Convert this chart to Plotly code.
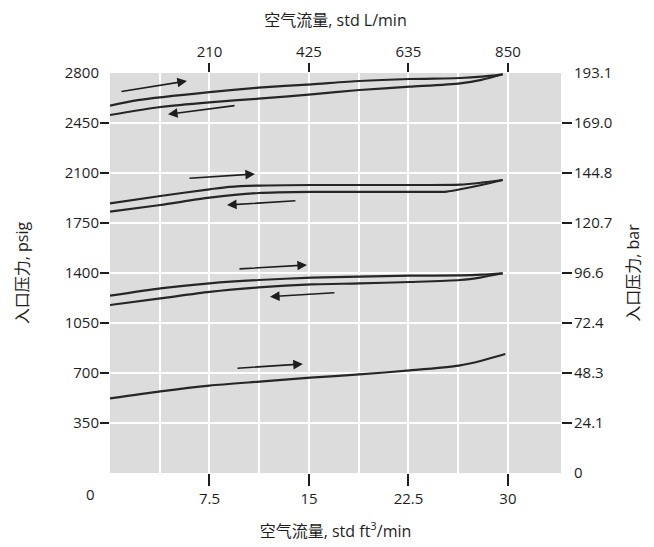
import plotly.graph_objects as go

# ---- axis ticks ----
flow_ticks = [7.5, 15, 22.5, 30]
flow_tick_text = ["7.5", "15", "22.5", "30"]
lpm_tick_text = ["210", "425", "635", "850"]
flow_minor_grid = [3.75, 11.25, 18.75, 26.25]
psi_ticks = [350, 700, 1050, 1400, 1750, 2100, 2450, 2800]
psi_tick_text = ["350", "700", "1050", "1400", "1750", "2100", "2450", "2800"]
psi_dash_ticks = [350, 700, 1050, 1400, 1750, 2100, 2450]
bar_ticks = [0, 350, 700, 1050, 1400, 1750, 2100, 2450, 2800]
bar_tick_text = ["0", "24.1", "48.3", "72.4", "96.6", "120.7", "144.8", "169.0", "193.1"]

# ---- curves (flow std ft3/min, inlet pressure psig) ----
p2800_up_x = [0, 2.1, 7.5, 11.2, 15.2, 18.8, 22.6, 26.4, 28.0, 29.6]
p2800_up_y = [2571, 2610, 2666, 2697, 2721, 2744, 2758, 2765, 2774, 2791]
p2800_dn_x = [0, 3.8, 7.5, 11.2, 15.2, 18.8, 22.6, 26.4, 28.0, 29.6]
p2800_dn_y = [2506, 2562, 2595, 2620, 2651, 2681, 2704, 2728, 2752, 2791]

p2100_up_x = [0, 3.8, 7.5, 9.0, 11.2, 15.2, 18.8, 22.6, 26.4, 28.0, 29.6]
p2100_up_y = [1888, 1939, 1986, 2003, 2012, 2016, 2016, 2016, 2018, 2032, 2051]
p2100_dn_x = [0, 3.8, 7.5, 11.2, 15.2, 18.8, 22.6, 25.4, 26.4, 28.0, 29.6]
p2100_dn_y = [1830, 1876, 1927, 1960, 1968, 1968, 1968, 1970, 1986, 2016, 2051]

p1400_up_x = [0, 3.8, 7.5, 11.2, 15.2, 18.8, 22.6, 26.4, 28.0, 29.6]
p1400_up_y = [1241, 1293, 1328, 1351, 1367, 1374, 1381, 1383, 1388, 1398]
p1400_dn_x = [0, 3.8, 7.5, 11.2, 15.2, 18.8, 22.6, 26.4, 28.0, 29.6]
p1400_dn_y = [1176, 1222, 1268, 1299, 1320, 1327, 1337, 1351, 1370, 1398]

p700_x = [0, 3.8, 7.5, 11.3, 15.1, 18.8, 22.6, 26.3, 28.0, 29.8]
p700_y = [523, 572, 612, 640, 667, 690, 718, 752, 786, 833]

# ---- direction arrows: (start x, start y, end x, end y) ----
arrow_x0 = [0.75, 9.50, 5.88, 14.09, 9.65, 17.03, 9.50]
arrow_y0 = [2669, 2573, 2063, 1906, 1428, 1262, 733]
arrow_x1 = [5.80, 4.37, 10.93, 8.82, 14.85, 12.06, 14.54]
arrow_y1 = [2744, 2511, 2093, 1876, 1456, 1234, 763]

FONT = "Open Sans, Noto Sans CJK SC, sans-serif"
INK = "#1e1e1e"
LINE = "#262626"

fig = go.Figure()
curves = [
    (p2800_up_x, p2800_up_y), (p2800_dn_x, p2800_dn_y),
    (p2100_up_x, p2100_up_y), (p2100_dn_x, p2100_dn_y),
    (p1400_up_x, p1400_up_y), (p1400_dn_x, p1400_dn_y),
    (p700_x, p700_y),
]
for cx, cy in curves:
    fig.add_trace(go.Scatter(
        x=cx, y=cy, mode="lines",
        line=dict(color=LINE, width=2.2, shape="spline", smoothing=0.7),
        showlegend=False, hoverinfo="skip"))
# dummy trace to activate the secondary axes
fig.add_trace(go.Scatter(x=[None], y=[None], xaxis="x2", yaxis="y2",
                         mode="lines", showlegend=False, hoverinfo="skip"))

for x0, y0, x1, y1 in zip(arrow_x0, arrow_y0, arrow_x1, arrow_y1):
    fig.add_annotation(x=x1, y=y1, ax=x0, ay=y0, xref="x", yref="y",
                       axref="x", ayref="y", text="", showarrow=True,
                       arrowhead=2, arrowsize=1.2, arrowwidth=1.6,
                       arrowcolor=INK)

fig.add_annotation(x=0, y=0, xref="paper", yref="paper", text="0",
                   showarrow=False, xanchor="center", yanchor="middle",
                   xshift=-20, yshift=-21,
                   font=dict(family=FONT, size=15, color=INK))

tickfont = dict(family=FONT, size=15, color=INK)
titlefont = dict(family=FONT, size=16, color=INK)

fig.update_layout(
    width=654, height=547,
    margin=dict(l=102, r=101, t=65, b=82),
    paper_bgcolor="white", plot_bgcolor="#dcdcdd",
    font=dict(family=FONT, color=INK),
    xaxis=dict(
        range=[0, 34], tickvals=flow_ticks, ticktext=flow_tick_text,
        ticks="outside", ticklen=12, tickwidth=1.5, tickcolor=INK,
        showgrid=True, gridcolor="white", gridwidth=2,
        minor=dict(tickvals=flow_minor_grid, showgrid=True,
                   gridcolor="white", gridwidth=2, ticks=""),
        zeroline=False, showline=False, tickfont=tickfont,
        title=dict(text="空气流量, std ft<sup>3</sup>/min", font=titlefont,
                   standoff=18),
    ),
    xaxis2=dict(
        overlaying="x", side="top", range=[0, 34], anchor="y",
        tickvals=flow_ticks, ticktext=lpm_tick_text,
        ticks="outside", ticklen=9, tickwidth=1.5, tickcolor=INK,
        showgrid=False, zeroline=False, showline=False, tickfont=tickfont,
        title=dict(text="空气流量, std L/min", font=titlefont, standoff=10),
    ),
    yaxis=dict(
        range=[0, 2800], tickvals=psi_ticks, ticktext=psi_tick_text,
        ticks="", showgrid=True, gridcolor="white", gridwidth=2,
        minor=dict(tickvals=psi_dash_ticks, ticks="outside", ticklen=9,
                   tickwidth=1.5, tickcolor=INK, showgrid=False),
        zeroline=False, showline=False, tickfont=tickfont,
        ticklabelstandoff=10,
        title=dict(text="入口压力, psig", font=titlefont, standoff=32),
    ),
    yaxis2=dict(
        overlaying="y", side="right", range=[0, 2800], anchor="x",
        tickvals=bar_ticks, ticktext=bar_tick_text, ticks="",
        minor=dict(tickvals=psi_dash_ticks, ticks="outside", ticklen=10,
                   tickwidth=1.5, tickcolor=INK, showgrid=False),
        showgrid=False, zeroline=False, showline=False, tickfont=tickfont,
        ticklabelstandoff=12,
        title=dict(text="入口压力, bar", font=titlefont, standoff=16),
    ),
)

fig.write_html("out.html")
